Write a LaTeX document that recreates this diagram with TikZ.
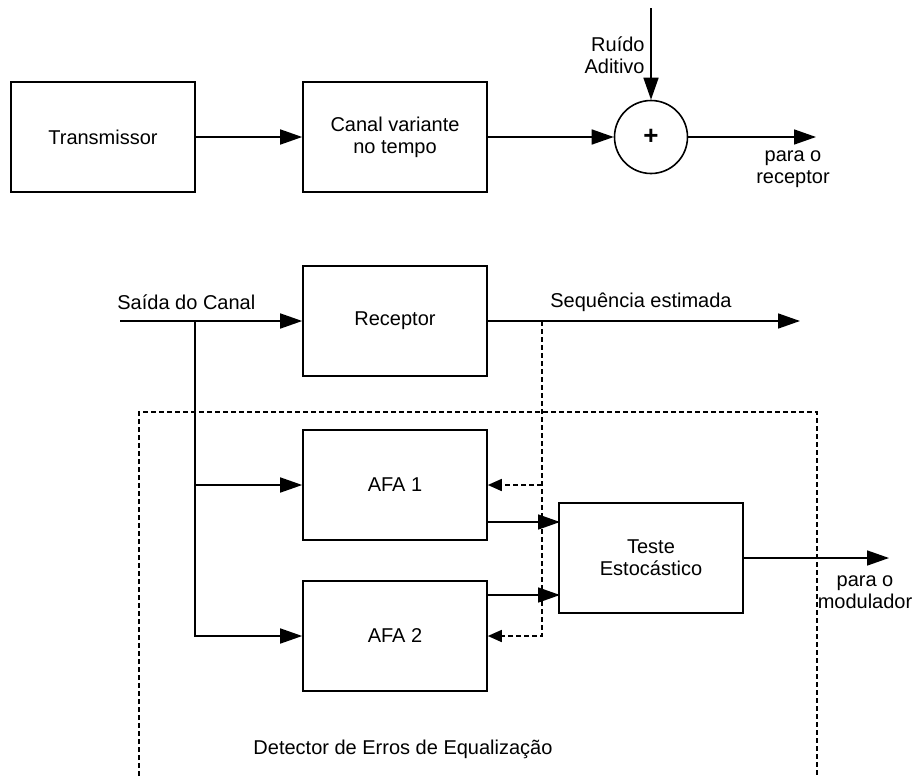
\documentclass[tikz,border=0pt]{standalone}
\usepackage{fontspec}
\setmainfont{Liberation Sans}
\usetikzlibrary{arrows.meta}
\tikzset{
	bloco/.style={draw, line width=0.8pt, minimum width=92pt, minimum height=55pt, align=center, inner sep=0pt},
	soma/.style={draw, circle, line width=0.8pt, minimum size=36.5pt, inner sep=0pt},
	rotulo/.style={align=center, inner sep=0pt},
	liga/.style={draw, line width=0.8pt, -{Triangle[length=11pt,width=7.5pt]}},
	tracejada/.style={draw, line width=0.8pt, dash pattern=on 2.5pt off 1.5pt, -{Triangle[length=7pt,width=6pt]}},
	moldura/.style={draw, line width=0.8pt, dash pattern=on 2.5pt off 1.5pt}
}
\begin{document}
\begin{tikzpicture}[x=0.5pt,y=-0.5pt,font=\fontsize{10}{11}\selectfont]
\useasboundingbox (0,0) rectangle (915,776);
% canal de transmissao
\path
	(103,137) node[bloco] (tx) {Transmissor}
	(395,137) node[bloco] (canal) {Canal variante\\no tempo}
	(651,137) node[soma] (sum) {\fontsize{13}{13}\selectfont\textbf{+}}
	(645,55) node[rotulo, anchor=east, align=right] (ruido) {Ruído\\Aditivo}
	(793,169) node[rotulo] (prx) {para o\\receptor};
\coordinate (nz) at (651,8);
\coordinate (out0) at (816,137);
\draw[liga] (tx) -- (canal);
\draw[liga] (canal) -- (sum);
\draw[liga] (nz) -- (sum);
\draw[liga] (sum) -- (out0);
% receptor e detector
\path
	(395,321) node[bloco] (rec) {Receptor}
	(395,485) node[bloco] (afa1) {AFA 1}
	(395,636) node[bloco] (afa2) {AFA 2}
	(651,558) node[bloco] (teste) {Teste\\Estocástico}
	(117,302) node[rotulo, anchor=west] (saida) {Saída do Canal}
	(550,302) node[rotulo, anchor=west] (seq) {Sequência estimada}
	(865,592) node[rotulo] (pmod) {para o\\modulador}
	(403,749) node[rotulo] (det) {Detector de Erros de Equalização};
\coordinate (in) at (120,321);
\coordinate (br) at (195,321);
\coordinate (tap) at (542,321);
\coordinate (out1) at (800,321);
\coordinate (out2) at (889,558);
\coordinate (t1) at (560,522);
\coordinate (t2) at (560,595);
\draw[liga] (in) -- (rec);
\draw[liga] (rec) -- (out1);
\draw[liga] (br) |- (afa2);
\draw[liga] (br |- afa1) -- (afa1);
\draw[tracejada] (tap) |- (afa2);
\draw[tracejada] (tap |- afa1) -- (afa1);
\draw[liga] (afa1.east |- t1) -- (t1);
\draw[liga] (afa2.east |- t2) -- (t2);
\draw[liga] (teste) -- (out2);
\draw[moldura] (139,776) |- (817,412) -- (817,776);
\end{tikzpicture}
\end{document}
